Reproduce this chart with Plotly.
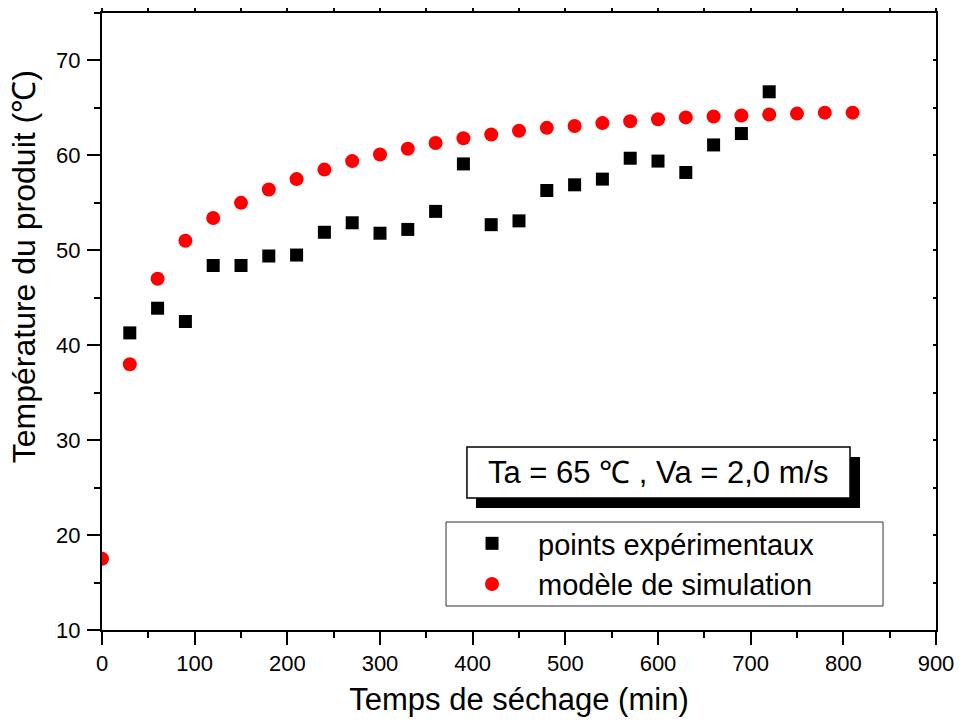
import plotly.graph_objects as go

# Drying time (min) and product temperature (°C)
t_exp = [30, 60, 90, 120, 150, 180, 210, 240, 270, 300, 330, 360,
         390, 420, 450, 480, 510, 540, 570, 600, 630, 660, 690, 720]
temp_exp = [41.3, 43.9, 42.5, 48.4, 48.4, 49.4, 49.5, 51.9, 52.9, 51.8, 52.2, 54.1,
            59.1, 52.7, 53.1, 56.3, 56.9, 57.5, 59.7, 59.4, 58.2, 61.1, 62.3, 66.7]

t_sim = [0, 30, 60, 90, 120, 150, 180, 210, 240, 270, 300, 330, 360, 390,
         420, 450, 480, 510, 540, 570, 600, 630, 660, 690, 720, 750, 780, 810]
temp_sim = [17.5, 38.0, 47.0, 51.0, 53.4, 55.0, 56.4, 57.5, 58.5, 59.4, 60.1, 60.7, 61.3, 61.8,
            62.2, 62.6, 62.9, 63.1, 63.4, 63.6, 63.8, 64.0, 64.1, 64.2, 64.3, 64.4, 64.5, 64.5]

x_ticks = [0, 100, 200, 300, 400, 500, 600, 700, 800, 900]
y_ticks = [10, 20, 30, 40, 50, 60, 70]

FONT = "Liberation Sans, Arial, sans-serif"

fig = go.Figure()
fig.add_trace(go.Scatter(
    x=t_exp, y=temp_exp, mode="markers", name="points expérimentaux",
    marker=dict(symbol="square", size=13, color="black"),
))
fig.add_trace(go.Scatter(
    x=t_sim, y=temp_sim, mode="markers", name="modèle de simulation",
    marker=dict(symbol="circle", size=14, color="#ff0000"),
))

axis_common = dict(
    showgrid=False, zeroline=False, showline=True, linecolor="black", linewidth=2,
    ticks="outside", ticklen=13, tickwidth=2, tickcolor="black",
    tickfont=dict(family=FONT, size=22, color="black"),
    minor=dict(ticks="outside", ticklen=6, tickwidth=2, tickcolor="black"),
    automargin=False,
)

fig.update_xaxes(
    range=[0, 900], tickvals=x_ticks, ticktext=[str(v) for v in x_ticks],
    minor_dtick=50, ticklabelstandoff=0,
    title=dict(text="Temps de séchage (min)", font=dict(family=FONT, size=31, color="black"),
               standoff=13),
    **axis_common,
)
fig.update_yaxes(
    range=[10, 75], tickvals=y_ticks, ticktext=[str(v) for v in y_ticks],
    minor_dtick=5, ticklabelstandoff=2,
    **axis_common,
)

# Frame on top and right with small ticks
fig.update_layout(
    xaxis2=dict(overlaying="x", side="top", range=[0, 900], dtick=50, showline=True,
                linecolor="black", linewidth=2, ticks="outside", ticklen=3, tickwidth=1.5,
                tickcolor="black", showticklabels=False, showgrid=False, zeroline=False,
                automargin=False),
    yaxis2=dict(overlaying="y", side="right", range=[10, 75], dtick=5, showline=True,
                linecolor="black", linewidth=2, ticks="inside", ticklen=3, tickwidth=1.5,
                tickcolor="black", showticklabels=False, showgrid=False, zeroline=False,
                automargin=False),
)
fig.add_trace(go.Scatter(x=[None], y=[None], xaxis="x2", yaxis="y2", showlegend=False,
                         hoverinfo="skip"))

# Condition box with drop shadow
fig.add_shape(type="rect", xref="paper", yref="paper", x0=0.4484, x1=0.9089,
              y0=0.1977, y1=0.2804, fillcolor="black", line=dict(width=0))
fig.add_shape(type="rect", xref="paper", yref="paper", x0=0.4376, x1=0.8969,
              y0=0.2139, y1=0.2966, fillcolor="white", line=dict(color="black", width=1.5))
fig.add_annotation(xref="paper", yref="paper", x=0.6673, y=0.2553, showarrow=False,
                   xanchor="center", yanchor="middle",
                   text="Ta = 65 ℃ , Va = 2,0 m/s",
                   font=dict(family=FONT, size=31, color="black"))

# Legend frame
fig.add_shape(type="rect", xref="paper", yref="paper", x0=0.4125, x1=0.9365,
              y0=0.0389, y1=0.175, fillcolor="white", line=dict(color="#333333", width=1))

# Vertical axis title
fig.add_annotation(xref="paper", yref="paper", x=-0.0935, y=0.588, showarrow=False,
                   xanchor="center", yanchor="middle", textangle=-90,
                   text="Température du produit (℃)",
                   font=dict(family=FONT, size=32, color="black"))

fig.update_layout(
    width=959, height=724,
    margin=dict(l=102, r=23, t=13, b=94),
    paper_bgcolor="white", plot_bgcolor="white",
    showlegend=True,
    legend=dict(x=0.4125, y=0.107, xanchor="left", yanchor="middle",
                bgcolor="rgba(0,0,0,0)", borderwidth=0,
                font=dict(family=FONT, size=29, color="black"),
                itemwidth=82, tracegroupgap=0),
)

fig.write_html("out.html")
